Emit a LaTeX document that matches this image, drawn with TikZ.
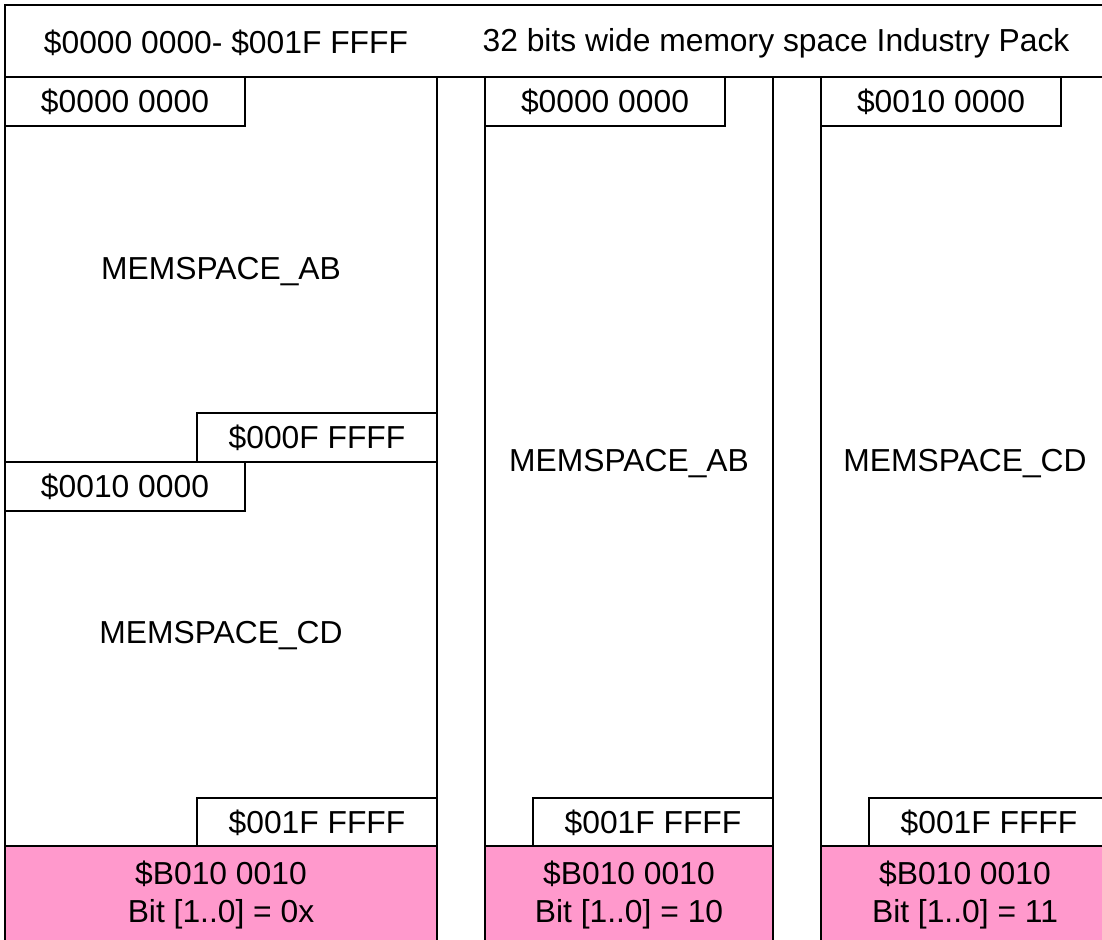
\documentclass[tikz,border=0pt]{standalone}
\usepackage{fontspec}
\setmainfont{Liberation Sans}
\definecolor{pinkfill}{HTML}{FF99CC}
\begin{document}
\begin{tikzpicture}[x=1pt,y=-1pt,
  every node/.style={font=\fontsize{31.8pt}{38pt}\selectfont, inner sep=0pt, outer sep=0pt},
  area/.style={draw=black, line width=2pt, rectangle, anchor=north west},
  lbl/.style={draw=black, line width=2pt, fill=white, rectangle, anchor=north west, minimum width=240pt, minimum height=49pt},
  bank/.style={draw=black, line width=2pt, fill=pinkfill, rectangle, anchor=north west, minimum height=100pt, align=center},
  txt/.style={yshift=-3pt, align=center}]
\useasboundingbox (0,0) rectangle (1102,939);
\fill[white] (0,0) rectangle (1102,939);
% header
\node[area, minimum width=1120pt, minimum height=72pt] (head) at (5,5) {};
\node[txt] (headl) at (226,40) {\$0000 0000- \$001F FFFF};
\node[txt] (headr) at (776,40) {32 bits wide memory space Industry Pack};
% column 1
\node[area, minimum width=432pt, minimum height=385pt] (c1ab) at (5,77) {};
\node[area, minimum width=432pt, minimum height=384pt] (c1cd) at (5,462) {};
\node[lbl] (c1a) at (5,77) {\$0000 0000};
\node[txt] (c1abt) at (221,269) {MEMSPACE\_AB};
\node[lbl] (c1b) at (197,413) {\$000F FFFF};
\node[lbl] (c1c) at (5,462) {\$0010 0000};
\node[txt] (c1cdt) at (221,633) {MEMSPACE\_CD};
\node[lbl] (c1d) at (197,798) {\$001F FFFF};
\node[bank, minimum width=432pt] (c1p) at (5,846) {};
\node[txt] (c1pt) at (221,892) {\$B010 0010\\Bit [1..0] = 0x};
% column 2
\node[area, minimum width=288pt, minimum height=769pt] (c2) at (485,77) {};
\node[lbl] (c2a) at (485,77) {\$0000 0000};
\node[txt] (c2t) at (629,461) {MEMSPACE\_AB};
\node[lbl] (c2d) at (533,798) {\$001F FFFF};
\node[bank, minimum width=288pt] (c2p) at (485,846) {};
\node[txt] (c2pt) at (629,892) {\$B010 0010\\Bit [1..0] = 10};
% column 3
\node[area, minimum width=320pt, minimum height=769pt] (c3) at (821,77) {};
\node[lbl] (c3a) at (821,77) {\$0010 0000};
\node[txt] (c3t) at (965,461) {MEMSPACE\_CD};
\node[lbl] (c3d) at (869,798) {\$001F FFFF};
\node[bank, minimum width=320pt] (c3p) at (821,846) {};
\node[txt] (c3pt) at (965,892) {\$B010 0010\\Bit [1..0] = 11};
\end{tikzpicture}
\end{document}
